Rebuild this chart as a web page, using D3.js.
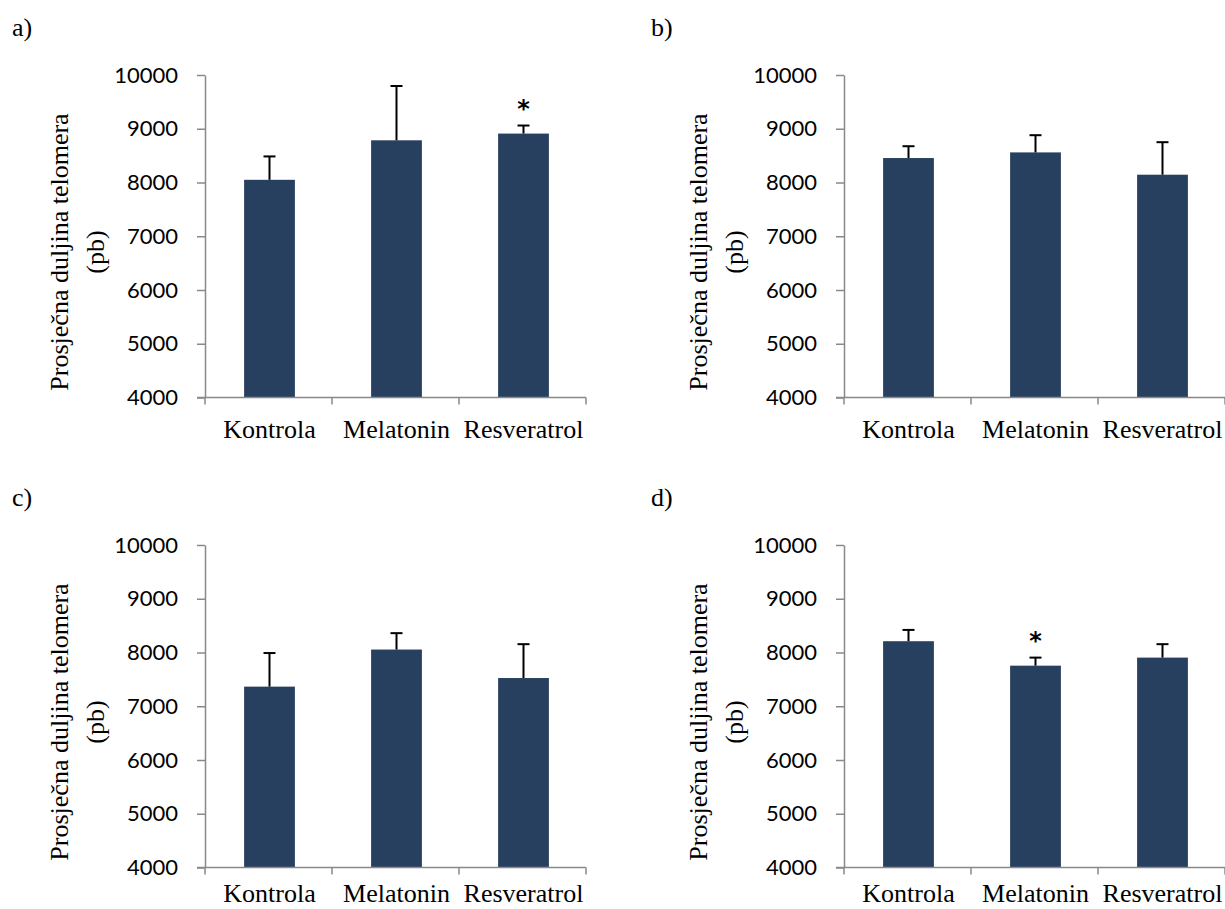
<!DOCTYPE html>
<html>
<head>
<meta charset="utf-8">
<script src="https://cdn.jsdelivr.net/npm/d3@7"></script>
<style>
  body { margin: 0; background: #fff; }
  svg { display: block; }
</style>
</head>
<body>
<div id="vis"></div>
<script>
var width = 1225,
	height = 909;

// data
var categories = ["Kontrola", "Melatonin", "Resveratrol"];
var panelLabels = ["a)", "b)", "c)", "d)"];
var yTicks = [4000, 5000, 6000, 7000, 8000, 9000, 10000];

var meanA = [8050, 8785, 8910],
	errA = [435, 1010, 150],
	starA = [false, false, true];
var meanB = [8455, 8560, 8145],
	errB = [220, 320, 605],
	starB = [false, false, false];
var meanC = [7365, 8055, 7525],
	errC = [625, 305, 630],
	starC = [false, false, false];
var meanD = [8210, 7755, 7905],
	errD = [210, 150, 250],
	starD = [false, true, false];

var panels = [
	{ label: panelLabels[0], mean: meanA, err: errA, star: starA, ox: 0, oy: 0, labGap: 40 },
	{ label: panelLabels[1], mean: meanB, err: errB, star: starB, ox: 639, oy: 0, labGap: 40 },
	{ label: panelLabels[2], mean: meanC, err: errC, star: starC, ox: 0, oy: 470, labGap: 34 },
	{ label: panelLabels[3], mean: meanD, err: errD, star: starD, ox: 639, oy: 470, labGap: 34 }
];

var barColor = "#27405f",
	axisColor = "#898989",
	serif = "'Liberation Serif', 'Times New Roman', serif";

var svg = d3.select("#vis")
	.append("svg")
	.attr("width", width)
	.attr("height", height);

function drawPanel(p) {
	var g = svg.append("g")
		.attr("transform", "translate(" + p.ox + "," + p.oy + ")");

	var left = 205, right = 586, top = 75, bottom = 397.5;

	var x = d3.scaleBand()
		.domain(categories)
		.range([left, right]);

	var y = d3.scaleLinear()
		.domain([4000, 10000])
		.range([bottom, top]);

	var barW = x.bandwidth() * 0.4;
	var cx = function(d) { return x(d) + x.bandwidth() / 2 + 1; };

	// panel letter
	g.append("text")
		.attr("x", 12)
		.attr("y", 36)
		.style("font-family", serif)
		.style("font-size", "26px")
		.text(p.label);

	// y title
	var title = g.append("text")
		.attr("transform", "translate(68,252) rotate(-90)")
		.attr("text-anchor", "middle")
		.style("font-family", serif)
		.style("font-size", "26px");
	title.append("tspan").attr("x", 0).attr("y", 0).text("Prosječna duljina telomera");
	title.append("tspan").attr("x", 0).attr("y", 36).text("(pb)");

	// bars
	g.selectAll("rect.bar")
		.data(categories)
		.enter()
		.append("rect")
		.attr("class", "bar")
		.attr("x", function(d) { return cx(d) - barW / 2; })
		.attr("width", barW)
		.attr("y", function(d, i) { return y(p.mean[i]); })
		.attr("height", function(d, i) { return bottom - y(p.mean[i]); })
		.style("fill", barColor);

	// error bars (upper only)
	var eb = g.selectAll("g.err")
		.data(categories)
		.enter()
		.append("g")
		.attr("class", "err");

	eb.append("line")
		.attr("x1", cx)
		.attr("x2", cx)
		.attr("y1", function(d, i) { return y(p.mean[i]); })
		.attr("y2", function(d, i) { return y(p.mean[i] + p.err[i]); })
		.style("stroke", "#000")
		.style("stroke-width", 2);

	eb.append("line")
		.attr("x1", function(d) { return cx(d) - 6; })
		.attr("x2", function(d) { return cx(d) + 6; })
		.attr("y1", function(d, i) { return y(p.mean[i] + p.err[i]); })
		.attr("y2", function(d, i) { return y(p.mean[i] + p.err[i]); })
		.style("stroke", "#000")
		.style("stroke-width", 2);

	// significance stars
	g.selectAll("text.star")
		.data(categories.filter(function(d, i) { return p.star[i]; }))
		.enter()
		.append("text")
		.attr("class", "star")
		.attr("x", cx)
		.attr("y", function(d) {
			var i = categories.indexOf(d);
			return y(p.mean[i] + p.err[i]) - 9;
		})
		.attr("text-anchor", "middle")
		.style("font-family", "'DejaVu Sans', sans-serif")
		.style("font-weight", "bold")
		.style("font-size", "24px")
		.text("*");

	// y axis
	var yAxis = g.append("g")
		.attr("transform", "translate(" + left + ",0)")
		.call(d3.axisLeft(y)
			.tickValues(yTicks)
			.tickFormat(d3.format("d"))
			.tickSize(8)
			.tickSizeOuter(0)
			.tickPadding(19));

	yAxis.select(".domain").style("stroke", axisColor).style("stroke-width", 1.5);
	yAxis.selectAll(".tick line").style("stroke", axisColor).style("stroke-width", 1.5);
	yAxis.selectAll(".tick text")
		.style("font-family", "Lato, 'Open Sans', sans-serif")
		.style("font-size", "22px")
		.style("fill", "#000");

	// x axis line + boundary ticks
	g.append("line")
		.attr("x1", left - 8)
		.attr("x2", right)
		.attr("y1", bottom)
		.attr("y2", bottom)
		.style("stroke", axisColor)
		.style("stroke-width", 1.5);

	var edges = categories.map(function(d) { return x(d); }).concat([right]);
	g.selectAll("line.xtick")
		.data(edges)
		.enter()
		.append("line")
		.attr("class", "xtick")
		.attr("x1", function(d) { return d; })
		.attr("x2", function(d) { return d; })
		.attr("y1", bottom)
		.attr("y2", bottom + 7)
		.style("stroke", axisColor)
		.style("stroke-width", 1.5);

	g.selectAll("text.xlab")
		.data(categories)
		.enter()
		.append("text")
		.attr("class", "xlab")
		.attr("x", cx)
		.attr("y", bottom + p.labGap)
		.attr("text-anchor", "middle")
		.style("font-family", serif)
		.style("font-size", "26px")
		.text(function(d) { return d; });
}

panels.forEach(drawPanel);
</script>
</body>
</html>
